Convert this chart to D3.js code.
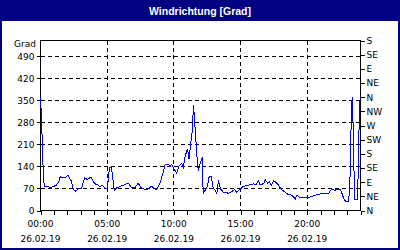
<!DOCTYPE html>
<html lang="de">
<head>
<meta charset="UTF-8">
<title>Windrichtung</title>
<script src="https://cdnjs.cloudflare.com/ajax/libs/d3/7.8.5/d3.min.js"></script>
<style>
  body {margin: 0; background: #ffffff;}
  text {font-family: "DejaVu Sans", sans-serif; font-size: 9px; fill: #000;}
</style>
</head>
<body>
<div id="chart"></div>
<script>
// Messwerte: Stunde des Tages / Windrichtung in Grad
var hours = [0.00, 0.08, 0.18, 0.28, 0.60, 0.72, 0.94, 1.19, 1.35, 1.49, 1.65, 1.85, 2.07, 2.32, 2.47, 2.62,
  2.87, 3.07, 3.32, 3.52, 3.77, 4.07, 4.27, 4.45, 4.65, 4.83, 5.02, 5.13, 5.17, 5.32, 5.53, 5.70,
  5.83, 6.20, 6.58, 6.83, 7.08, 7.33, 7.53, 7.95, 8.33, 8.70, 8.96, 9.16, 9.34, 9.59, 9.71, 9.83,
  10.00, 10.20, 10.41, 10.59, 10.71, 10.84, 10.96, 11.04, 11.14, 11.26, 11.39, 11.47, 11.54, 11.64,
  11.74, 11.84, 11.97, 12.14, 12.20, 12.35, 12.54, 12.65, 12.80, 12.95, 13.10, 13.22, 13.35, 13.50,
  13.72, 14.10, 14.35, 14.55, 14.72, 14.85, 15.05, 15.17, 15.47, 15.80, 15.98, 16.15, 16.35, 16.47,
  16.73, 16.86, 17.03, 17.16, 17.31, 17.48, 17.65, 17.86, 17.98, 18.10, 18.36, 18.61, 18.86, 18.98,
  19.11, 19.23, 19.41, 20.06, 20.36, 20.62, 21.00, 21.37, 21.62, 21.75, 21.86, 22.07, 22.24, 22.50,
  22.62, 22.75, 22.87, 23.12, 23.22, 23.30, 23.37, 23.44, 23.52, 23.57, 23.77, 23.82, 23.90, 23.97];
var direction = [360, 288, 150, 75, 75, 72, 76, 80, 90, 108, 104, 105, 112, 93, 66, 62,
  70, 70, 104, 98, 106, 85, 82, 75, 80, 70, 72, 117, 138, 138, 64, 72,
  74, 80, 87, 72, 72, 87, 72, 66, 77, 66, 87, 115, 146, 146, 140, 146,
  133, 119, 143, 149, 138, 170, 188, 194, 164, 212, 255, 334, 297, 233,
  170, 125, 149, 170, 53, 64, 80, 108, 108, 72, 64, 53, 95, 69,
  58, 55, 60, 66, 58, 64, 70, 75, 80, 82, 85, 82, 95, 82,
  85, 97, 87, 91, 80, 95, 90, 80, 72, 66, 58, 50, 49, 42,
  37, 48, 42, 42, 44, 49, 53, 53, 55, 64, 69, 64, 68, 67,
  53, 37, 30, 30, 111, 278, 360, 278, 111, 34, 34, 111, 278, 360];

var gradTicks = [0, 70, 140, 210, 280, 350, 420, 490];
var compassTicks = [0, 45, 90, 135, 180, 225, 270, 315, 360, 405, 450, 495, 540];
var compassLabels = ["N", "NE", "E", "SE", "S", "SW", "W", "NW", "N", "NE", "E", "SE", "S"];
var timeTicks = [0, 5, 10, 15, 20];
var timeLabels = ["00:00", "05:00", "10:00", "15:00", "20:00"];
var dateLabel = "26.02.19";

var w = 400;
var h = 250;

var svg = d3.select("#chart").append("svg")
    .attr("width", w)
    .attr("height", h);

// Rahmen + Titelleiste
svg.append("rect").attr("x", 0).attr("y", 0).attr("width", w).attr("height", h).attr("fill", "#000080");
svg.append("rect").attr("x", 2).attr("y", 21).attr("width", w - 4).attr("height", h - 23).attr("fill", "#ffffff");
svg.append("text")
    .attr("x", 200).attr("y", 14.5)
    .attr("text-anchor", "middle")
    .style("font-family", "'Liberation Sans', sans-serif")
    .style("font-size", "10.5px")
    .style("font-weight", "bold")
    .style("fill", "#ffffff")
    .text("Windrichtung [Grad]");

var x = d3.scaleLinear().domain([0, 24]).range([40.5, 360.5]);
var y = d3.scaleLinear().domain([0, 540]).range([210.5, 40.5]);

// Gitter
svg.selectAll("line.hgrid").data(gradTicks.slice(1)).enter().append("line")
    .attr("class", "hgrid")
    .attr("x1", x(0)).attr("x2", x(24))
    .attr("y1", function(d) {return Math.round(y(d) - 0.5) + 0.5;})
    .attr("y2", function(d) {return Math.round(y(d) - 0.5) + 0.5;})
    .attr("stroke", "#000").attr("stroke-dasharray", "4,3")
    .attr("shape-rendering", "crispEdges");

svg.selectAll("line.vgrid").data(timeTicks.slice(1)).enter().append("line")
    .attr("class", "vgrid")
    .attr("x1", function(d) {return Math.round(x(d) - 0.5) + 0.5;})
    .attr("x2", function(d) {return Math.round(x(d) - 0.5) + 0.5;})
    .attr("y1", y(540)).attr("y2", y(0))
    .attr("stroke", "#000").attr("stroke-dasharray", "4,3")
    .attr("shape-rendering", "crispEdges");

// Achsen
var left = svg.append("g").attr("transform", "translate(" + x(0) + ",0)")
    .call(d3.axisLeft(y).tickValues(gradTicks).tickSize(4).tickPadding(2));
var right = svg.append("g").attr("transform", "translate(" + x(24) + ",0)")
    .call(d3.axisRight(y).tickValues(compassTicks).tickSize(4).tickPadding(2)
        .tickFormat(function(d, i) {return compassLabels[i];}));
var bottom = svg.append("g").attr("transform", "translate(0," + y(0) + ")")
    .call(d3.axisBottom(x).tickValues(d3.range(0, 25)).tickSize(4).tickFormat(""));

[left, right, bottom].forEach(function(g) {
    g.select(".domain").remove();
    g.selectAll("line").attr("stroke", "#000").attr("shape-rendering", "crispEdges");
    g.selectAll("text").attr("fill", "#000").style("font-family", "'DejaVu Sans', sans-serif").style("font-size", "9px");
});

svg.append("rect")
    .attr("x", x(0)).attr("y", y(540))
    .attr("width", x(24) - x(0)).attr("height", y(0) - y(540))
    .attr("fill", "none").attr("stroke", "#000")
    .attr("shape-rendering", "crispEdges");

svg.append("text")
    .attr("x", 36).attr("y", 47)
    .attr("text-anchor", "end")
    .text("Grad");

// Zeitbeschriftung
svg.selectAll("text.time").data(timeTicks).enter().append("text")
    .attr("class", "time")
    .attr("x", function(d) {return x(d);})
    .attr("y", 227)
    .attr("text-anchor", "middle")
    .text(function(d, i) {return timeLabels[i];});

svg.selectAll("text.date").data(timeTicks).enter().append("text")
    .attr("class", "date")
    .attr("x", function(d) {return x(d);})
    .attr("y", 242)
    .attr("text-anchor", "middle")
    .text(dateLabel);

// Messkurve
var line = d3.line()
    .x(function(d) {return x(d[0]);})
    .y(function(d) {return y(d[1]);});

svg.append("path")
    .datum(hours.map(function(t, i) {return [t, direction[i]];}))
    .attr("d", line)
    .attr("fill", "none")
    .attr("stroke", "#0000ff")
    .attr("stroke-width", 1)
    .attr("shape-rendering", "crispEdges");
</script>
</body>
</html>
